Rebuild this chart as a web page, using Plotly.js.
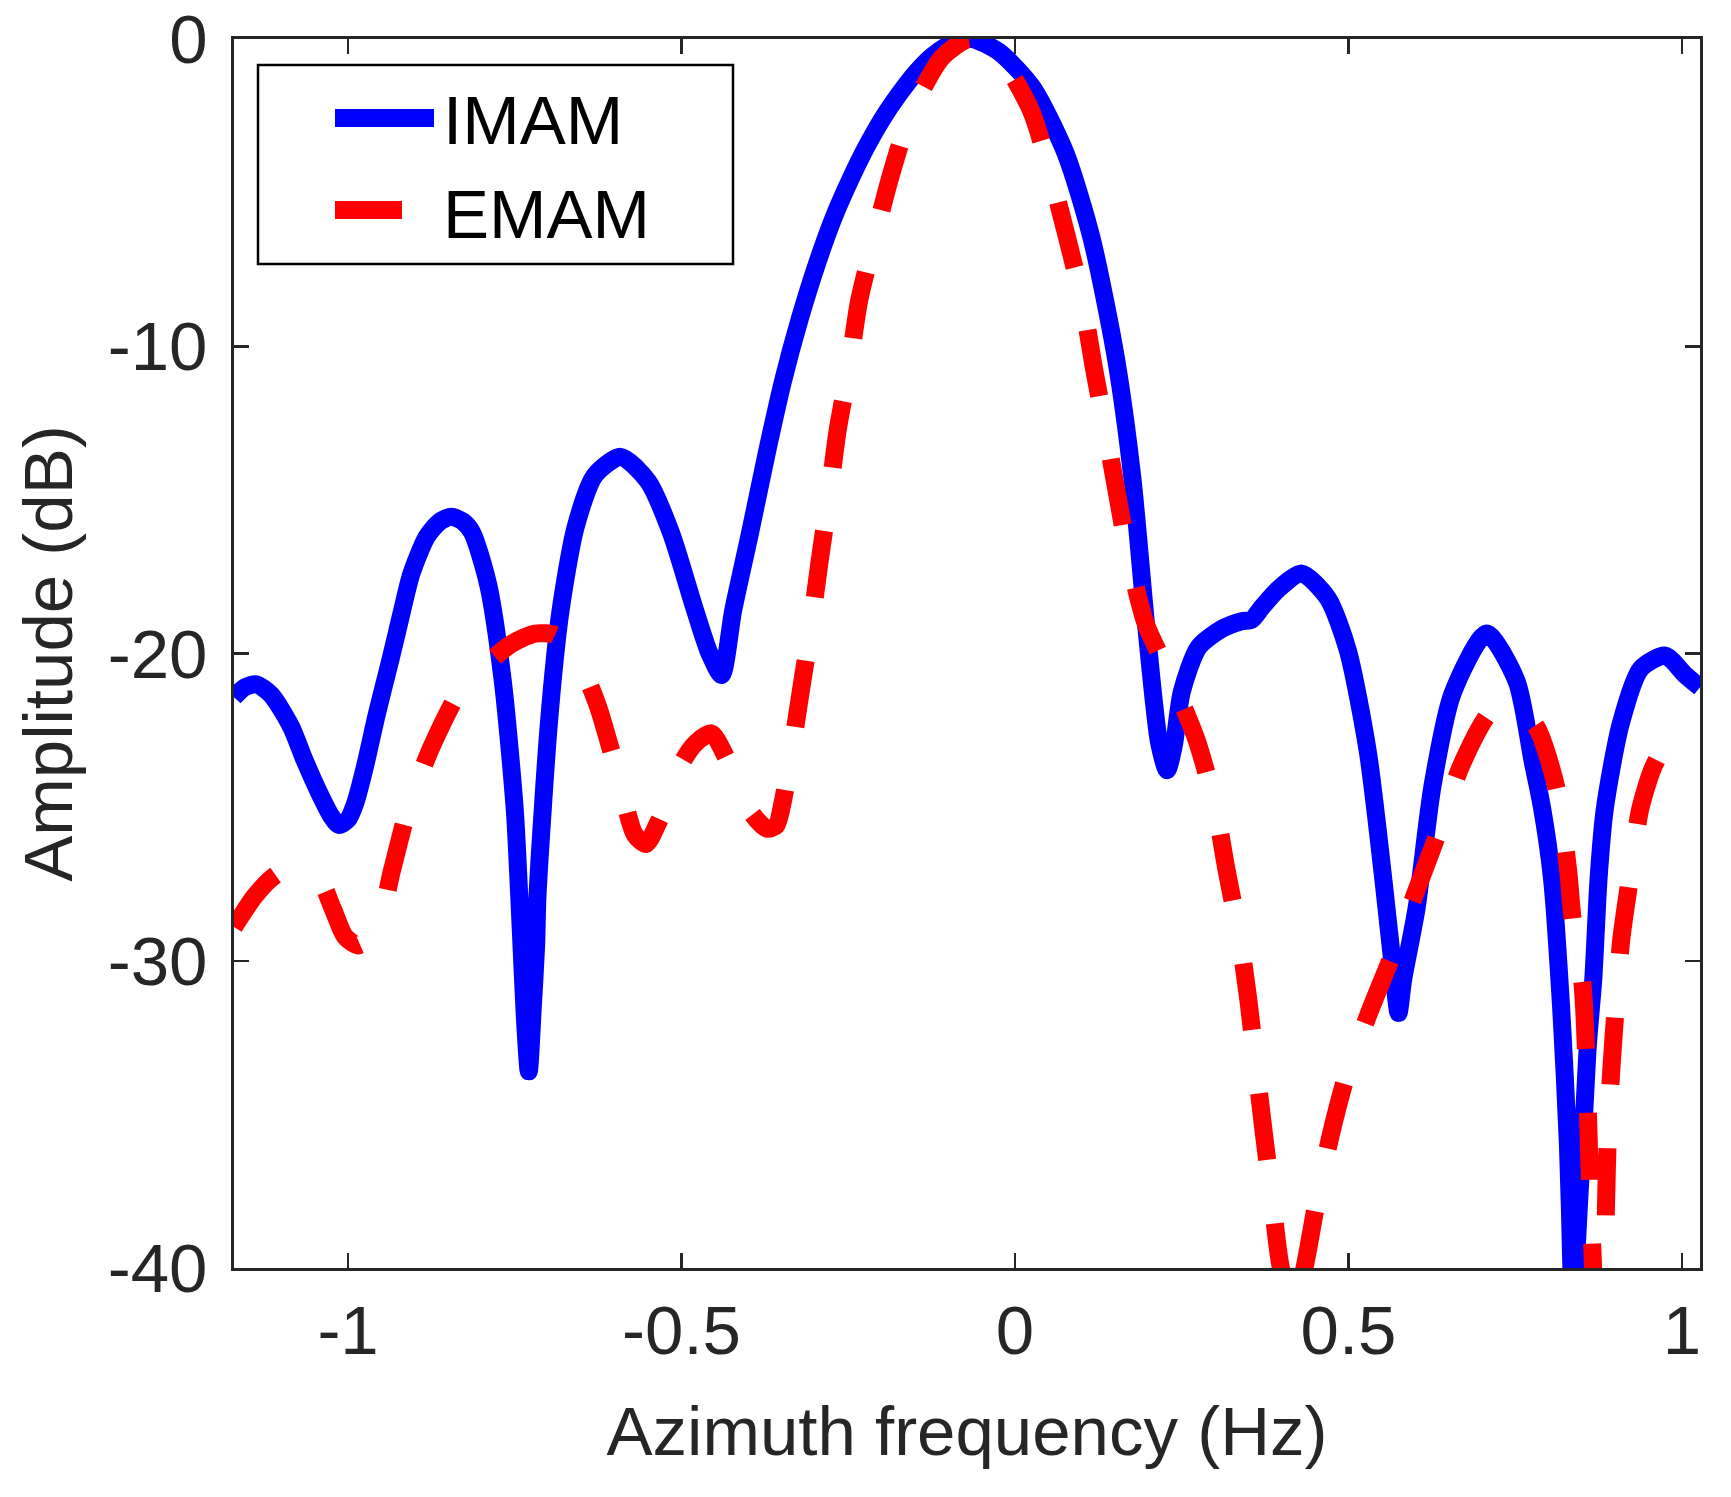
<!DOCTYPE html>
<html>
<head>
<meta charset="utf-8">
<script src="https://cdn.plot.ly/plotly-3.0.1.min.js"></script>
<style>
  html, body { margin: 0; padding: 0; background: #ffffff; }
  #chart { width: 1731px; height: 1497px; }
</style>
</head>
<body>
<div id="chart"></div>
<script>
// Azimuth frequency (Hz) and amplitude (dB)
const imamFreq = [
  -1.171, -1.155, -1.1374, -1.115, -1.0855, -1.0654, -1.0429, -1.025, -1.0139, -1.0,
  -0.9889, -0.9754, -0.9565, -0.9364, -0.92, -0.905, -0.882, -0.862, -0.845, -0.828,
  -0.814, -0.790, -0.768, -0.750, -0.741, -0.735, -0.729, -0.723, -0.718, -0.716,
  -0.699, -0.682, -0.659, -0.630, -0.591, -0.550, -0.516, -0.481, -0.458, -0.44,
  -0.4226, -0.3975, -0.3725, -0.3475, -0.3226, -0.2975, -0.2726, -0.2475, -0.2226, -0.199,
  -0.174, -0.149, -0.124, -0.095, -0.065, -0.024, 0.026, 0.076, 0.115, 0.151,
  0.176, 0.196, 0.216, 0.228, 0.238, 0.25, 0.275, 0.31, 0.34, 0.355,
  0.37, 0.395, 0.430, 0.469, 0.499, 0.529, 0.553, 0.568, 0.575, 0.582,
  0.602, 0.626, 0.656, 0.707, 0.752, 0.776, 0.79, 0.805, 0.819, 0.829,
  0.834, 0.838, 0.841, 0.854, 0.859, 0.867, 0.875, 0.884, 0.908, 0.938,
  0.975, 1.005, 1.027
];
const imamAmp = [
  -21.42, -21.1, -21.0, -21.35, -22.38, -23.46, -24.55, -25.3, -25.58, -25.4,
  -24.85, -23.75, -21.94, -20.2, -18.7, -17.4, -16.2, -15.7, -15.55, -15.7,
  -16.06, -17.75, -20.9, -25.1, -29.0, -31.8, -33.6, -31.5, -29.5, -27.9,
  -22.3, -18.7, -15.9, -14.2, -13.6, -14.4, -16.06, -18.5, -20.0, -20.7,
  -18.6, -16.1, -13.5, -11.1, -9.1, -7.35, -5.85, -4.6, -3.5, -2.6,
  -1.8, -1.1, -0.55, -0.15, 0, -0.42, -1.57, -3.73, -6.5, -10.35,
  -14.3, -18.95, -22.9, -23.8, -23.0, -21.25, -19.8, -19.2, -18.95, -18.9,
  -18.5, -17.9, -17.4, -18.2, -19.9, -23.2, -27.5, -30.5, -31.7, -30.6,
  -28.3, -24.3, -21.3, -19.35, -20.9, -23.5, -25.0, -27.3, -31.6, -36.0,
  -39.9, -46.0, -40.0, -34.7, -32.7, -30.6, -27.3, -25.1, -22.3, -20.5,
  -20.07, -20.7, -21.1
];

const emamFreq = [
  -1.171, -1.140, -1.114, -1.08, -1.043, -1.023, -1.005, -0.985, -0.957, -0.934,
  -0.908, -0.874, -0.828, -0.79, -0.756, -0.72, -0.69, -0.665, -0.644, -0.624,
  -0.596, -0.570, -0.553, -0.535, -0.521, -0.498, -0.478, -0.455, -0.435, -0.415,
  -0.395, -0.372, -0.358, -0.348, -0.336, -0.321, -0.306, -0.293, -0.279, -0.266,
  -0.249, -0.234, -0.211, -0.186, -0.156, -0.109, -0.068, -0.026, 0.024, 0.053,
  0.078, 0.101, 0.118, 0.136, 0.153, 0.171, 0.196, 0.236, 0.272, 0.300,
  0.317, 0.336, 0.350, 0.361, 0.373, 0.385, 0.397, 0.415, 0.433, 0.451,
  0.472, 0.496, 0.529, 0.566, 0.602, 0.635, 0.668, 0.713, 0.745, 0.782,
  0.812, 0.829, 0.836, 0.851, 0.856, 0.859, 0.862, 0.866, 0.874, 0.884,
  0.886, 0.889, 0.894, 0.901, 0.909, 0.922, 0.937, 0.955, 0.972, 1.0,
  1.015, 1.027
];
const emamAmp = [
  -28.9, -27.9, -27.3, -26.9, -27.35, -28.3, -29.2, -29.5, -29.0, -27.05,
  -24.9, -23.0, -21.06, -20.3, -19.7, -19.35, -19.4, -19.9, -20.7, -21.8,
  -23.9, -25.9, -26.2, -25.5, -24.8, -23.5, -22.9, -22.6, -23.3, -24.3,
  -25.2, -25.7, -25.6, -24.8, -23.3, -21.2, -19.1, -17.0, -14.9, -12.75,
  -10.7, -8.55, -6.5, -4.42, -2.4, -0.59, 0, -0.5, -2.33, -4.39,
  -6.46, -8.53, -10.68, -12.75, -14.8, -16.9, -19.03, -20.9, -22.8, -24.97,
  -27.03, -29.16, -31.3, -33.4, -35.6, -37.7, -39.8, -41.5, -40.1, -38.0,
  -35.8, -33.8, -31.8, -29.8, -27.7, -25.8, -23.7, -21.9, -21.6, -22.4,
  -24.4, -27.0, -28.65, -30.8, -32.9, -35.0, -37.15, -39.6, -43.0, -40.5,
  -38.0, -35.6, -33.56, -31.4, -29.3, -27.3, -25.1, -23.8, -23.1, -22.6,
  -22.7, -22.9
];

const seriesNames = ['IMAM', 'EMAM'];
const seriesColors = ['#0000ff', '#ff0000'];

const xTickVals = [-1, -0.5, 0, 0.5, 1];
const xTickText = ['-1', '-0.5', '0', '0.5', '1'];
const yTickVals = [0, -10, -20, -30, -40];
const yTickText = ['0', '-10', '-20', '-30', '-40'];

const axisColor = '#262626';
const fontFamily = 'Arial, "Liberation Sans", Helvetica, sans-serif';
const W = 1731, H = 1497;
const M = { l: 234, r: 31, t: 39, b: 229 };
const PW = W - M.l - M.r, PH = H - M.t - M.b;
// helpers converting pixel positions on the page to paper coordinates (legend box only)
const px = X => (X - M.l) / PW;
const py = Y => (H - M.b - Y) / PH;

const dashPattern = '67px,64px';

const traces = [
  {
    x: imamFreq, y: imamAmp, name: seriesNames[0], type: 'scatter', mode: 'lines',
    line: { color: seriesColors[0], width: 18, shape: 'spline', smoothing: 0.7 }
  },
  {
    x: emamFreq, y: emamAmp, name: seriesNames[1], type: 'scatter', mode: 'lines',
    line: { color: seriesColors[1], width: 18, dash: dashPattern, shape: 'spline', smoothing: 0.7 }
  }
];

// Legend drawn as box + sample lines + text (MATLAB-like legend geometry)
const legendShapes = [
  { type: 'rect', xref: 'paper', yref: 'paper', x0: px(258), x1: px(733), y0: py(264), y1: py(65),
    line: { color: '#000000', width: 2.5 }, fillcolor: '#ffffff', layer: 'above' },
  { type: 'line', xref: 'paper', yref: 'paper', x0: px(335), x1: px(434), y0: py(118), y1: py(118),
    line: { color: seriesColors[0], width: 18 }, layer: 'above' },
  { type: 'line', xref: 'paper', yref: 'paper', x0: px(335), x1: px(434), y0: py(210), y1: py(210),
    line: { color: seriesColors[1], width: 18, dash: dashPattern }, layer: 'above' }
];
const legendTexts = [
  { text: seriesNames[0], xref: 'paper', yref: 'paper', x: px(441), y: py(121), xanchor: 'left', yanchor: 'middle',
    showarrow: false, font: { family: fontFamily, size: 69, color: '#000000' } },
  { text: seriesNames[1], xref: 'paper', yref: 'paper', x: px(441), y: py(214), xanchor: 'left', yanchor: 'middle',
    showarrow: false, font: { family: fontFamily, size: 69, color: '#000000' } }
];

const layout = {
  width: W, height: H,
  paper_bgcolor: '#ffffff', plot_bgcolor: '#ffffff',
  margin: { l: M.l, r: M.r, t: M.t, b: M.b, pad: 0 },
  font: { family: fontFamily, size: 69, color: axisColor },
  showlegend: false,
  shapes: legendShapes,
  annotations: legendTexts,
  xaxis: {
    range: [-1.171, 1.027], autorange: false,
    tickmode: 'array', tickvals: xTickVals, ticktext: xTickText,
    ticks: 'inside', ticklen: 15, tickwidth: 2.5, tickcolor: axisColor,
    showline: true, linecolor: axisColor, linewidth: 2.7, mirror: 'ticks',
    showgrid: false, zeroline: false,
    tickfont: { family: fontFamily, size: 69, color: axisColor },
    ticklabelstandoff: 0,
    title: { text: 'Azimuth frequency (Hz)', font: { family: fontFamily, size: 69, color: axisColor }, standoff: 40 }
  },
  yaxis: {
    range: [-40, 0], autorange: false,
    tickmode: 'array', tickvals: yTickVals, ticktext: yTickText,
    ticks: 'inside', ticklen: 15, tickwidth: 2.5, tickcolor: axisColor,
    showline: true, linecolor: axisColor, linewidth: 2.7, mirror: 'ticks',
    showgrid: false, zeroline: false,
    tickfont: { family: fontFamily, size: 69, color: axisColor },
    ticklabelstandoff: 10,
    title: { text: 'Amplitude (dB)', font: { family: fontFamily, size: 69, color: axisColor }, standoff: 13 }
  }
};

Plotly.newPlot('chart', traces, layout, { displayModeBar: false, staticPlot: true });
</script>
</body>
</html>
